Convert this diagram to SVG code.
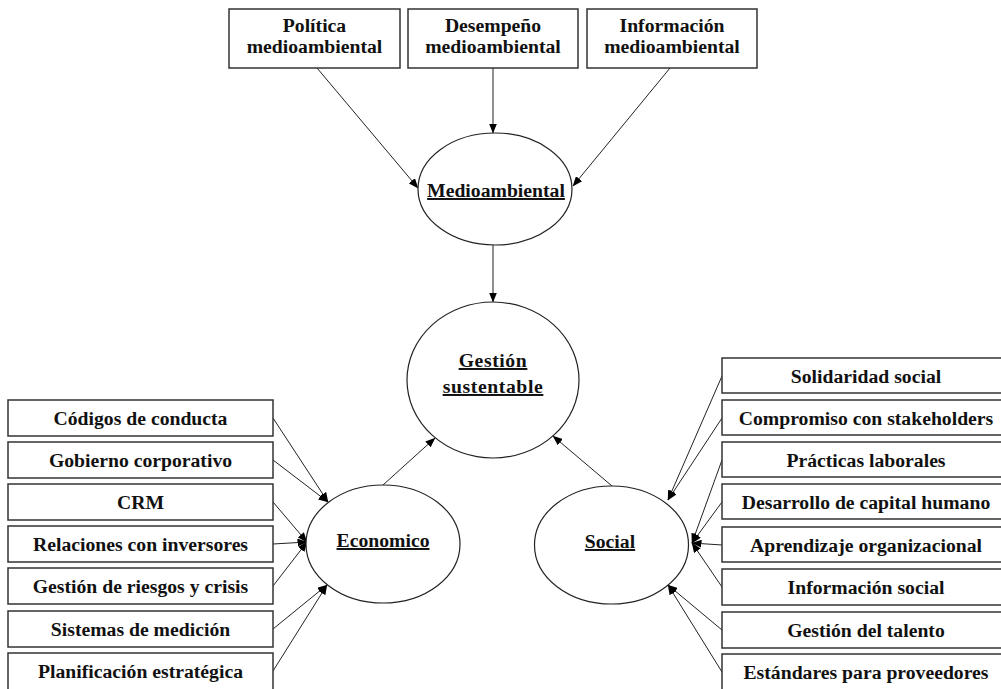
<svg xmlns="http://www.w3.org/2000/svg" width="1001" height="689" viewBox="0 0 1001 689">
<defs>
<marker id="ah" markerUnits="userSpaceOnUse" markerWidth="10" markerHeight="8" refX="9.5" refY="4" orient="auto">
<path d="M0,0 L10,4 L0,8 Z" fill="#000"/>
</marker>
<style>
.box{fill:#fff;stroke:#333;stroke-width:1.5}
.ell{fill:#fff;stroke:#222;stroke-width:1.2}
.t{font-family:"Liberation Serif","Times New Roman",serif;font-weight:bold;font-size:19.7px;fill:#111;text-anchor:middle}
.u{text-decoration:underline}
.c{stroke:#222;stroke-width:1;fill:none;marker-end:url(#ah)}
</style>
</defs>
<rect width="1001" height="689" fill="#fff"/>

<g id="connectors">
<line class="c" x1="317" y1="68" x2="418" y2="188"/>
<line class="c" x1="493" y1="68" x2="493" y2="133"/>
<line class="c" x1="670" y1="68" x2="573" y2="186"/>
<line class="c" x1="493" y1="245" x2="493" y2="302"/>
<line class="c" x1="383" y1="485" x2="435" y2="438"/>
<line class="c" x1="612" y1="486" x2="553" y2="436"/>
<line class="c" x1="273" y1="418" x2="328" y2="502"/>
<line class="c" x1="273" y1="460" x2="328" y2="502"/>
<line class="c" x1="273" y1="502" x2="307" y2="542"/>
<line class="c" x1="273" y1="544" x2="307" y2="542"/>
<line class="c" x1="273" y1="586" x2="307" y2="542"/>
<line class="c" x1="273" y1="629" x2="327" y2="585"/>
<line class="c" x1="273" y1="671" x2="327" y2="585"/>
<line class="c" x1="722" y1="376" x2="668" y2="500"/>
<line class="c" x1="722" y1="418" x2="668" y2="500"/>
<line class="c" x1="722" y1="460" x2="692" y2="543"/>
<line class="c" x1="722" y1="502" x2="692" y2="543"/>
<line class="c" x1="722" y1="545" x2="692" y2="543"/>
<line class="c" x1="722" y1="587" x2="692" y2="543"/>
<line class="c" x1="722" y1="630" x2="668" y2="585"/>
<line class="c" x1="722" y1="672" x2="668" y2="585"/>
</g>

<g id="n-politica"><rect class="box" x="229" y="9" width="171" height="59"/><text class="t" x="314.5" y="32">Política</text><text class="t" x="314.5" y="53">medioambiental</text></g>
<g id="n-desempeno"><rect class="box" x="408" y="9" width="170" height="59"/><text class="t" x="493" y="32">Desempeño</text><text class="t" x="493" y="53">medioambiental</text></g>
<g id="n-informacion"><rect class="box" x="587" y="9" width="170" height="59"/><text class="t" x="672" y="32">Información</text><text class="t" x="672" y="53">medioambiental</text></g>

<g id="n-medioambiental"><ellipse class="ell" cx="495" cy="189" rx="77" ry="56"/><text class="t u" x="496" y="197">Medioambiental</text></g>
<g id="n-gestion"><ellipse class="ell" cx="493" cy="380" rx="86" ry="78"/><text class="t u" x="493" y="367" style="letter-spacing:0.6px">Gestión</text><text class="t u" x="493" y="393" style="letter-spacing:0.6px">sustentable</text></g>
<g id="n-economico"><ellipse class="ell" cx="383" cy="544" rx="77" ry="59"/><text class="t u" x="383" y="547">Economico</text></g>
<g id="n-social"><ellipse class="ell" cx="611.5" cy="545" rx="77" ry="59"/><text class="t u" x="610" y="548">Social</text></g>

<g id="n-codigos"><rect class="box" x="8" y="400" width="265" height="36"/><text class="t" x="140.5" y="425">Códigos de conducta</text></g>
<g id="n-gobierno"><rect class="box" x="8" y="442" width="265" height="36"/><text class="t" x="140.5" y="467">Gobierno corporativo</text></g>
<g id="n-crm"><rect class="box" x="8" y="484" width="265" height="36"/><text class="t" x="140.5" y="509">CRM</text></g>
<g id="n-relaciones"><rect class="box" x="8" y="526" width="265" height="36"/><text class="t" x="140.5" y="551">Relaciones con inversores</text></g>
<g id="n-riesgos"><rect class="box" x="8" y="568" width="265" height="36"/><text class="t" x="140.5" y="593">Gestión de riesgos y crisis</text></g>
<g id="n-sistemas"><rect class="box" x="8" y="611" width="265" height="36"/><text class="t" x="140.5" y="636">Sistemas de medición</text></g>
<g id="n-planificacion"><rect class="box" x="8" y="653" width="265" height="40"/><text class="t" x="140.5" y="678">Planificación estratégica</text></g>

<g id="n-solidaridad"><rect class="box" x="722" y="358" width="290" height="35"/><text class="t" x="866" y="383">Solidaridad social</text></g>
<g id="n-compromiso"><rect class="box" x="722" y="400" width="290" height="35"/><text class="t" x="866" y="425">Compromiso con stakeholders</text></g>
<g id="n-practicas"><rect class="box" x="722" y="442" width="290" height="35"/><text class="t" x="866" y="467">Prácticas laborales</text></g>
<g id="n-desarrollo"><rect class="box" x="722" y="484" width="290" height="35"/><text class="t" x="866" y="509">Desarrollo de capital humano</text></g>
<g id="n-aprendizaje"><rect class="box" x="722" y="527" width="290" height="35"/><text class="t" x="866" y="552">Aprendizaje organizacional</text></g>
<g id="n-infosocial"><rect class="box" x="722" y="569" width="290" height="36"/><text class="t" x="866" y="594">Información social</text></g>
<g id="n-talento"><rect class="box" x="722" y="612" width="290" height="36"/><text class="t" x="866" y="637">Gestión del talento</text></g>
<g id="n-estandares"><rect class="box" x="722" y="654" width="290" height="40"/><text class="t" x="866" y="679">Estándares para proveedores</text></g>
</svg>
